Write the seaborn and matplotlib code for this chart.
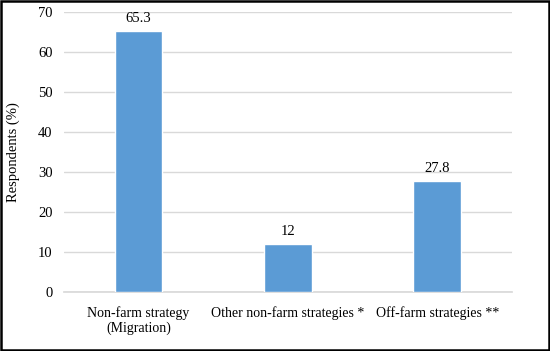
import matplotlib
matplotlib.use('Agg')
import matplotlib.pyplot as plt
import seaborn as sns
import pandas as pd
from matplotlib.patches import Rectangle

# data
categories = ['Non-farm strategy\n(Migration)', 'Other non-farm strategies *', 'Off-farm strategies **']
values = [65.3, 12, 27.8]
value_labels = ['65.3', '12', '27.8']
y_ticks = [0, 10, 20, 30, 40, 50, 60, 70]

sns.set_theme(style='white')
plt.rcParams['font.family'] = ['Liberation Serif', 'DejaVu Serif']

df = pd.DataFrame({'strategy': categories, 'pct': values})

fig = plt.figure(figsize=(5.5, 3.51), dpi=100)
ax = fig.add_axes([0.116, 0.168, 0.815, 0.798])

sns.barplot(data=df, x='strategy', y='pct', color='#5b9bd5', saturation=1,
            width=0.32, ax=ax, zorder=3)

ax.bar_label(ax.containers[0], labels=value_labels, padding=4, fontsize=10.5, color='black')

ax.set_ylim(0, 70)
ax.set_xlim(-0.5, 2.5)
ax.set_yticks(y_ticks)
ax.yaxis.grid(True, color='#d9d9d9', linewidth=1, zorder=0)
ax.set_axisbelow(True)
for s in ['top', 'right', 'left']:
    ax.spines[s].set_visible(False)
ax.spines['bottom'].set_color('#d9d9d9')
ax.tick_params(axis='y', length=0, labelsize=10.5, colors='black', pad=8)
ax.tick_params(axis='x', length=0, labelsize=10, colors='black', pad=10)
ax.set_xlabel('')
ax.set_ylabel('Respondents (%)', fontsize=10.5, color='black', labelpad=13)

# black frame around the whole figure
fig.patches.append(Rectangle((0.002, 0.003), 0.996, 0.994, transform=fig.transFigure,
                             fill=False, edgecolor='black', linewidth=1.8))

fig.savefig('out.png', dpi=100)
